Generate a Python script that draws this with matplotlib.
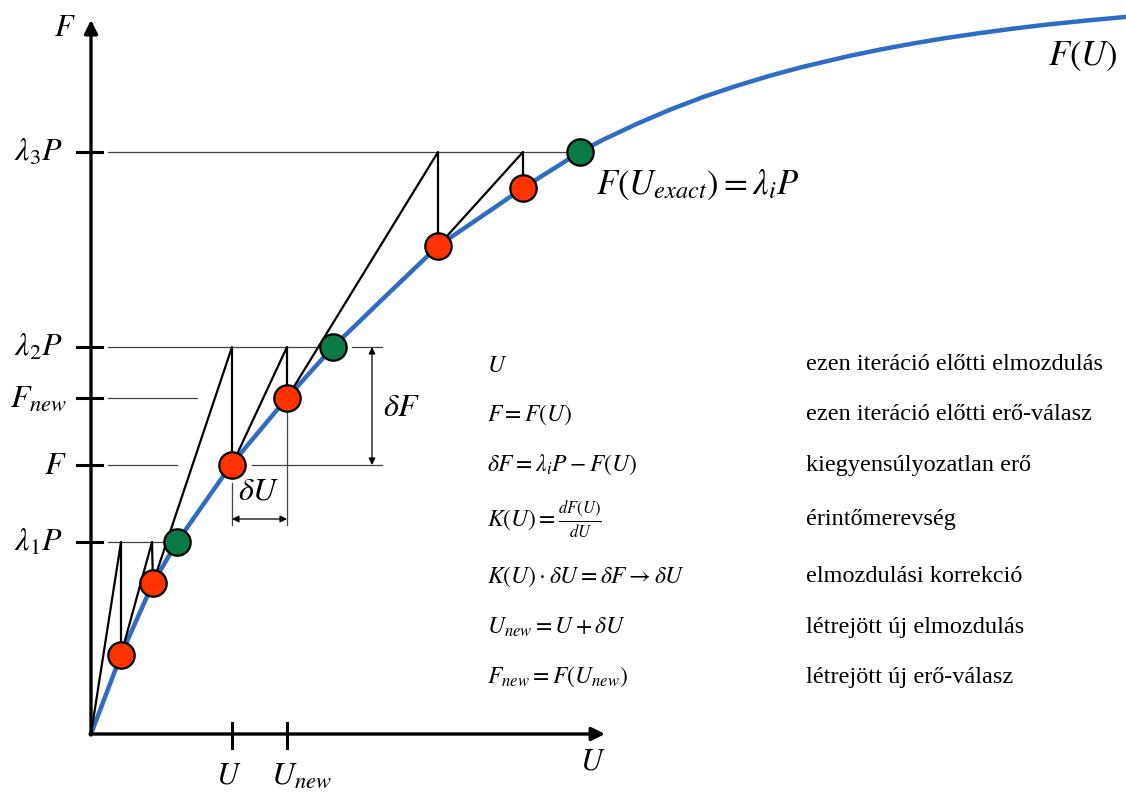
import matplotlib
matplotlib.use("Agg")
import matplotlib.pyplot as plt

plt.rcParams["mathtext.fontset"] = "stix"

# Digitised F(U) curve (u to the right of the origin, f above it)
curve_u = [0, 30, 62, 86, 140, 196, 242, 300, 347, 400, 432, 489, 512, 546, 579,
           612, 646, 679, 712, 759, 790, 822, 855, 888, 920, 955, 995, 1035]
curve_f = [0, 79, 151, 192, 269, 336, 387, 443, 488, 524, 546, 582, 594.2, 610.2,
           624.3, 636.9, 648.3, 658.3, 667.2, 678.2, 684.6, 690.5, 696.0, 700.8,
           705.1, 709.3, 713.4, 717.1]

# Newton-Raphson iteration path (tangents + verticals), one polyline
path_u = [0, 30, 30, 61, 62, 141, 141, 196, 196, 347, 347, 432, 432]
path_f = [0, 192, 79, 192, 151, 387, 269, 387, 336, 582, 488, 582, 546]

red_u = [30, 62, 141, 196, 347, 432]
red_f = [79, 151, 269, 336, 488, 546]
green_u = [86, 242, 489]
green_f = [192, 387, 582]

# load levels on the F axis
level_f = [582, 387, 336, 269, 192]
level_labels = [r"$\lambda_3 P$", r"$\lambda_2 P$", r"$F_{new}$", r"$F$", r"$\lambda_1 P$"]
level_end = [489, 242, 106, 86, 86]

u_ticks = [141, 196]
u_labels = [r"$U$", r"$U_{new}$"]

formulas = [
    r"$U$",
    r"$F = F(U)$",
    r"$\delta F = \lambda_i P - F(U)$",
    r"$K(U) = \frac{dF(U)}{dU}$",
    r"$K(U) \cdot \delta U = \delta F \rightarrow \delta U$",
    r"$U_{new} = U + \delta U$",
    r"$F_{new} = F(U_{new})$",
]
descriptions = [
    "ezen iteráció előtti elmozdulás",
    "ezen iteráció előtti erő-válasz",
    "kiegyensúlyozatlan erő",
    "érintőmerevség",
    "elmozdulási korrekció",
    "létrejött új elmozdulás",
    "létrejött új erő-válasz",
]
row_f = [369, 319, 269, 214, 157, 107, 57]

BLUE = "#2F6CC4"
RED = "#FF3300"
GREEN = "#0B7A45"
GUIDE = "#444444"

fig = plt.figure(figsize=(11.26, 7.92), dpi=100, facecolor="white")
ax = fig.add_axes([0, 0, 1, 1])
ax.set_xlim(-91, 1035)
ax.set_ylim(-58, 734)
ax.axis("off")

# thin horizontal guides from the F axis
for f, end in zip(level_f, level_end):
    ax.plot([17, end], [f, f], color=GUIDE, lw=0.9, zorder=1)
    ax.plot([-14, 11], [f, f], color="black", lw=2.2, zorder=3)
for f, lab in zip(level_f, level_labels):
    dx = -28 if lab.startswith(r"$\lambda") else -24
    ax.text(dx, f, lab, ha="right", va="center", fontsize=23)

# extension lines for dF and dU
ax.plot([261, 291], [387, 387], color=GUIDE, lw=0.9, zorder=1)
ax.plot([161, 291], [269, 269], color=GUIDE, lw=0.9, zorder=1)
ax.plot([141, 141], [251, 209], color=GUIDE, lw=0.9, zorder=1)
ax.plot([196, 196], [336, 209], color=GUIDE, lw=0.9, zorder=1)
ax.annotate("", xy=(281, 387), xytext=(281, 269),
            arrowprops=dict(arrowstyle="<|-|>", color="black", lw=0.9,
                            mutation_scale=10, shrinkA=0, shrinkB=0))
ax.annotate("", xy=(141, 215), xytext=(196, 215),
            arrowprops=dict(arrowstyle="<|-|>", color="black", lw=0.9,
                            mutation_scale=10, shrinkA=0, shrinkB=0))
ax.text(292, 326, r"$\delta F$", ha="left", va="center", fontsize=23)
ax.text(168, 243, r"$\delta U$", ha="center", va="center", fontsize=23)

# axes with arrow heads
ax.annotate("", xy=(0, 714), xytext=(0, -1),
            arrowprops=dict(arrowstyle="-|>", color="black", lw=2.4,
                            mutation_scale=20, shrinkA=0, shrinkB=0))
ax.annotate("", xy=(514, 0), xytext=(-1, 0),
            arrowprops=dict(arrowstyle="-|>", color="black", lw=2.4,
                            mutation_scale=20, shrinkA=0, shrinkB=0))
ax.text(-26, 706, r"$F$", ha="center", va="center", fontsize=22)
ax.text(502, -27, r"$U$", ha="center", va="center", fontsize=22)

for u in u_ticks:
    ax.plot([u, u], [11, -14], color="black", lw=2.2, zorder=3)
ax.text(u_ticks[0] - 3, -41, u_labels[0], ha="center", va="center", fontsize=22)
ax.text(u_ticks[1] - 16, -41, u_labels[1], ha="left", va="center", fontsize=23)

# curve, iteration path, markers
ax.plot(curve_u, curve_f, color=BLUE, lw=3.2, solid_capstyle="round",
        solid_joinstyle="round", zorder=2)
ax.plot(path_u, path_f, color="black", lw=1.6, zorder=3)
ax.plot(red_u, red_f, "o", ms=19, mfc=RED, mec="black", mew=1.6, zorder=4)
ax.plot(green_u, green_f, "o", ms=19, mfc=GREEN, mec="black", mew=1.6, zorder=4)

ax.text(957, 678, r"$F(U)$", ha="left", va="center", fontsize=25)
ax.text(505, 549, r"$F(U_{exact}) = \lambda_i P$", ha="left", va="center", fontsize=25)

# explanation table
for f, formula, desc in zip(row_f, formulas, descriptions):
    ax.text(396, f, formula, ha="left", va="center", fontsize=17)
    ax.text(715, f, desc, ha="left", va="center", fontsize=17.5,
            family="Liberation Serif")

fig.savefig("out.png", dpi=100, facecolor="white")
